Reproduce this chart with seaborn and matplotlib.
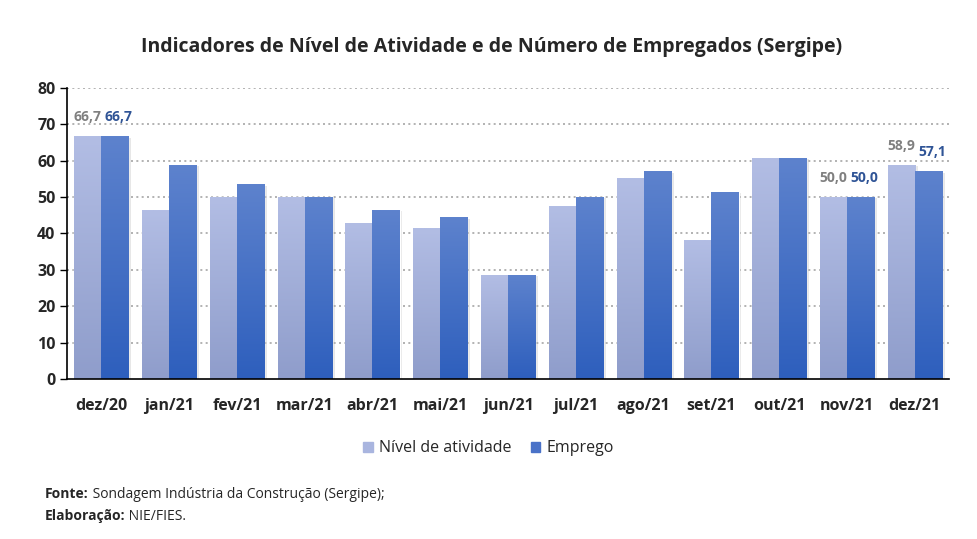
import numpy as np
import pandas as pd
import matplotlib
matplotlib.use("Agg")
import matplotlib.pyplot as plt
import matplotlib.patheffects as pe
from matplotlib.colors import LinearSegmentedColormap
import seaborn as sns

# dados
meses = ["dez/20", "jan/21", "fev/21", "mar/21", "abr/21", "mai/21", "jun/21",
         "jul/21", "ago/21", "set/21", "out/21", "nov/21", "dez/21"]
nivel_atividade = [66.7, 46.4, 50.0, 50.0, 42.9, 41.4, 28.6, 47.4, 55.2, 38.1, 60.7, 50.0, 58.9]
emprego = [66.7, 58.8, 53.5, 50.0, 46.4, 44.4, 28.6, 50.0, 57.1, 51.4, 60.7, 50.0, 57.1]
rotular = ["dez/20", "nov/21", "dez/21"]

df = pd.DataFrame({"mes": meses * 2,
                   "valor": nivel_atividade + emprego,
                   "serie": ["Nível de atividade"] * 13 + ["Emprego"] * 13})

sns.set_style("white")
plt.rcParams["font.family"] = ["Open Sans", "DejaVu Sans"]

cor_claro = "#a9b5df"
cor_escuro = "#4a72c8"
grad_claro = LinearSegmentedColormap.from_list("c", ["#8f9dcb", "#b2bde4"])
grad_escuro = LinearSegmentedColormap.from_list("e", ["#2e5fbd", "#5d82cd"])

fig = plt.figure(figsize=(9.77, 5.39), dpi=100)
ax = fig.add_axes([0.069, 0.297, 0.902, 0.54])

sns.barplot(data=df, x="mes", y="valor", hue="serie", ax=ax, width=0.8,
            palette=[cor_claro, cor_escuro], saturation=1, legend=False)

ax.set_ylim(0, 80)
ax.set_xlim(-0.5, len(meses) - 0.5)
ax.set_yticks(range(0, 81, 10))
for v in range(10, 81, 10):
    ax.axhline(v, color="#a6a6a6", lw=1.2, ls=(0, (1.2, 2)), zorder=0)

# degradê vertical em cada barra + sombra leve
n = len(meses)
grad = np.linspace(0, 1, 100).reshape(-1, 1)
for i, p in enumerate(ax.patches[:2 * n]):
    cmap = grad_claro if i < n else grad_escuro
    x0, y0 = p.get_x(), p.get_y()
    w, h = p.get_width(), p.get_height()
    p.set_path_effects([pe.SimplePatchShadow(offset=(2, -1), shadow_rgbFace="#b0b0b0", alpha=0.3), pe.Normal()])
    im = ax.imshow(grad, cmap=cmap, origin="lower", aspect="auto",
                   extent=(x0, x0 + w, y0, y0 + h), zorder=p.get_zorder() + 0.1)
    im.set_clip_path(p)

ax.set_xlim(-0.5, len(meses) - 0.5)
ax.set_ylim(0, 80)

# rótulos de dados
for i, m in enumerate(meses):
    if m in rotular:
        ax.text(i - 0.2, nivel_atividade[i] + 3.3, f"{nivel_atividade[i]:.1f}".replace(".", ","),
                ha="center", va="bottom", fontsize=10, color="#808080", fontweight="bold")
        ax.text(i + 0.26, emprego[i] + 3.3, f"{emprego[i]:.1f}".replace(".", ","),
                ha="center", va="bottom", fontsize=10, color="#2f5496", fontweight="bold")

for s in ["top", "right"]:
    ax.spines[s].set_visible(False)
for s in ["left", "bottom"]:
    ax.spines[s].set_color("black")
    ax.spines[s].set_linewidth(1.2)

ax.set_xlabel("")
ax.set_ylabel("")
ax.set_xticks(np.arange(len(meses)))
ax.set_xticklabels(meses)
ax.set_xticks(np.arange(-0.5, len(meses)), minor=True)
ax.tick_params(axis="x", which="major", length=0, pad=14, labelsize=11.5)
ax.tick_params(axis="x", which="minor", length=5, width=1, color="black", direction="out")
ax.tick_params(axis="y", length=5, width=1, color="black", direction="out", labelsize=11.5, left=True)
for t in ax.get_xticklabels() + ax.get_yticklabels():
    t.set_fontweight("bold")

fig.text(0.503, 0.912, "Indicadores de Nível de Atividade e de Número de Empregados (Sergipe)",
         ha="center", va="center", fontsize=14, fontweight="bold")

handles = [plt.Rectangle((0, 0), 1, 1, color=cor_claro), plt.Rectangle((0, 0), 1, 1, color=cor_escuro)]
fig.legend(handles, ["Nível de atividade", "Emprego"], loc="center", bbox_to_anchor=(0.5, 0.168),
           ncol=2, frameon=False, fontsize=11.5, handlelength=0.6, handleheight=0.6,
           handletextpad=0.4, columnspacing=1.2)

# rodapé: parte em negrito seguida do texto normal
renderer = fig.canvas.get_renderer()
for yy, rot, resto in [(0.083, "Fonte:", " Sondagem Indústria da Construção (Sergipe);"),
                       (0.042, "Elaboração:", " NIE/FIES.")]:
    t1 = fig.text(0.046, yy, rot, fontsize=10, va="center", fontweight="bold")
    bb = t1.get_window_extent(renderer).transformed(fig.transFigure.inverted())
    fig.text(bb.x1, yy, resto, fontsize=10, va="center")

fig.savefig("out.png", dpi=100)
